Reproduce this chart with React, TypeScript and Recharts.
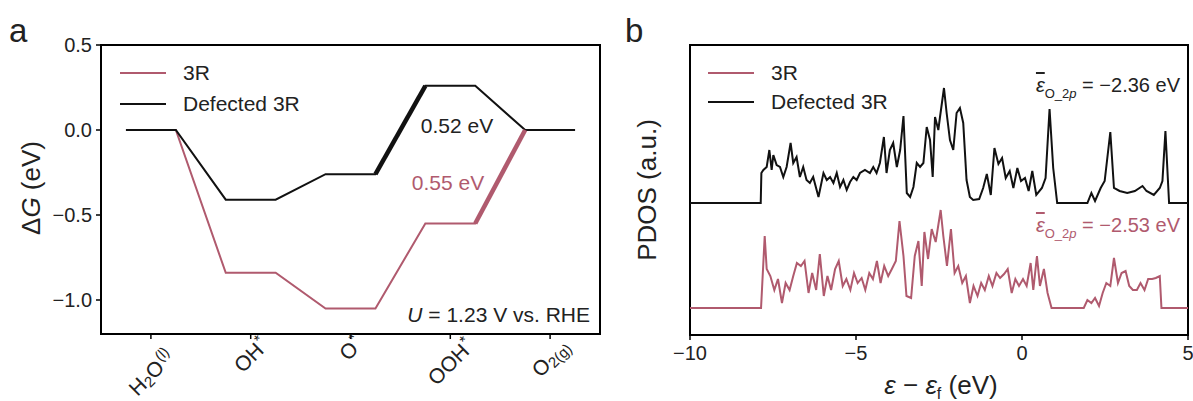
import React from 'react';
import { LineChart, Line, XAxis, YAxis, ReferenceArea, Legend } from 'recharts';

const FONT = '"Liberation Sans", Arial, Helvetica, sans-serif';
const PINK = '#b05a6e';
const INK = '#111111';
const TEXT = '#222222';

// (a) free-energy steps at U = 1.23 V
const steps = ['H2O(l)', 'OH*', 'O*', 'OOH*', 'O2(g)'];
const g3R = [0, -0.84, -1.05, -0.55, 0];
const gDefected = [0, -0.41, -0.26, 0.26, 0];
const gTicks = [-1.0, -0.5, 0.0, 0.5];
const limitStep3R = 3; // OOH* -> O2
const limitStepDefected = 2; // O* -> OOH*

// (b) O 2p PDOS, [energy (eV), density (a.u.)]
const eTicks = [-10, -5, 0, 5];
const pdos3R: [number, number][] = [
  [-10, 0], [-7.86, 0], [-7.75, 72], [-7.69, 39], [-7.58, 32], [-7.46, 18], [-7.35, 29], [-7.23, 5],
  [-7.12, 25], [-7.0, 18], [-6.89, 32], [-6.78, 45], [-6.66, 42], [-6.55, 47], [-6.43, 15], [-6.32, 35],
  [-6.2, 18], [-6.09, 54], [-5.97, 12], [-5.86, 32], [-5.75, 18], [-5.63, 39], [-5.52, 47], [-5.4, 22],
  [-5.29, 29], [-5.17, 18], [-5.06, 35], [-4.95, 25], [-4.83, 30], [-4.72, 18], [-4.6, 35], [-4.49, 29],
  [-4.37, 47], [-4.26, 25], [-4.15, 42], [-4.03, 32], [-3.92, 39], [-3.8, 47], [-3.69, 87], [-3.57, 52],
  [-3.48, 12], [-3.34, 10], [-3.23, 52], [-3.12, 67], [-3.02, 22], [-2.94, 76], [-2.83, 49], [-2.72, 79],
  [-2.6, 66], [-2.45, 98], [-2.37, 72], [-2.26, 42], [-2.14, 79], [-2.03, 35], [-1.92, 42], [-1.8, 25],
  [-1.69, 32], [-1.57, 5], [-1.46, 22], [-1.34, 12], [-1.23, 25], [-1.12, 18], [-1.0, 32], [-0.89, 22],
  [-0.77, 35], [-0.66, 30], [-0.54, 34], [-0.43, 39], [-0.31, 15], [-0.2, 29], [-0.09, 22], [0.03, 29],
  [0.14, 22], [0.26, 45], [0.34, 18], [0.45, 52], [0.54, 22], [0.66, 39], [0.77, 15], [0.89, 0],
  [1.86, 0], [1.97, 8], [2.09, 5], [2.2, 10], [2.32, 2], [2.43, 15], [2.54, 25], [2.66, 22],
  [2.77, 50], [2.89, 25], [3.0, 35], [3.12, 37], [3.23, 22], [3.34, 18], [3.46, 18], [3.57, 25],
  [3.69, 18], [3.8, 29], [3.92, 29], [4.03, 30], [4.15, 32], [4.2, 0], [5, 0],
];
const pdosDefected: [number, number][] = [
  [-10, 0], [-7.87, 0], [-7.85, 30], [-7.79, 33], [-7.69, 36], [-7.61, 53], [-7.54, 33], [-7.49, 48],
  [-7.39, 38], [-7.29, 36], [-7.19, 26], [-7.09, 36], [-6.97, 60], [-6.89, 40], [-6.79, 46], [-6.69, 26],
  [-6.59, 36], [-6.49, 23], [-6.39, 20], [-6.29, 26], [-6.13, 6], [-5.98, 30], [-5.88, 23], [-5.78, 26],
  [-5.68, 20], [-5.58, 30], [-5.48, 16], [-5.38, 23], [-5.28, 13], [-5.18, 21], [-5.08, 26], [-4.98, 23],
  [-4.88, 30], [-4.73, 33], [-4.58, 30], [-4.48, 36], [-4.38, 30], [-4.28, 40], [-4.16, 66], [-4.08, 30],
  [-3.98, 53], [-3.88, 60], [-3.77, 36], [-3.67, 53], [-3.57, 87], [-3.47, 10], [-3.37, 6], [-3.27, 16],
  [-3.17, 40], [-3.07, 36], [-2.97, 40], [-2.87, 76], [-2.77, 63], [-2.69, 26], [-2.62, 86], [-2.52, 73],
  [-2.47, 86], [-2.35, 115], [-2.27, 90], [-2.17, 63], [-2.07, 53], [-1.97, 90], [-1.87, 95], [-1.77, 80],
  [-1.67, 23], [-1.57, 6], [-1.47, 3], [-1.29, 4], [-1.17, 15], [-1.06, 29], [-0.94, 8], [-0.83, 55],
  [-0.71, 39], [-0.6, 45], [-0.49, 25], [-0.37, 32], [-0.26, 15], [-0.14, 35], [-0.03, 22], [0.09, 25],
  [0.2, 12], [0.31, 32], [0.43, 8], [0.6, 15], [0.71, 25], [0.83, 94], [0.94, 35], [1.06, 0],
  [1.97, 0], [2.09, 10], [2.2, 2], [2.37, 15], [2.49, 22], [2.66, 71], [2.77, 15], [2.94, 12],
  [3.17, 10], [3.4, 12], [3.63, 17], [3.75, 12], [3.97, 8], [4.15, 15], [4.23, 22], [4.32, 72],
  [4.43, 0], [5, 0],
];
const bandCenter3R = -2.53;
const bandCenterDefected = -2.36;
// vertical stacking of the two curves
const offset3R = 27;
const offsetDefected = 132;

const fmt = (v: number, d = 0) => (v < 0 ? '\u2212' : '') + Math.abs(v).toFixed(d);

const levels = (g: number[]) => g.flatMap((v, i) => [{ x: i - 0.25, g: v }, { x: i + 0.25, g: v }]);
const stepSeg = (g: number[], i: number) => [{ x: i + 0.25, g: g[i] }, { x: i + 0.75, g: g[i + 1] }];
const pdosRows = (p: [number, number][], off: number) => p.map(([e, h]) => ({ e, v: h + off }));

// tick label pieces: [text, kind]
type Piece = [string, 'n' | 'sub' | 'sup'];
const stepPieces: Record<string, Piece[]> = {
  'H2O(l)': [['H', 'n'], ['2', 'sub'], ['O', 'n'], ['(l)', 'sup']],
  'OH*': [['OH', 'n'], ['*', 'sup']],
  'O*': [['O', 'n'], ['*', 'sup']],
  'OOH*': [['OOH', 'n'], ['*', 'sup']],
  'O2(g)': [['O', 'n'], ['2(g)', 'sub']],
};

const StepTick = (props: any) => {
  const { x, y, payload } = props;
  const name = steps[payload.value];
  const pieces = stepPieces[name] || [];
  const w = pieces.reduce((s, [t, k]) => s + t.length * (k === 'n' ? 15 : 7), 0);
  const drop = name === 'H2O(l)' ? 8 : 0;
  let shift = 0;
  const spans = pieces.map(([t, k], i) => {
    const target = k === 'sub' ? 5 : k === 'sup' ? -6 : 0;
    const dy = target - shift;
    shift = target;
    return (
      <tspan key={i} dy={dy} dx={k === 'sup' ? 1 : 0} fontSize={k === 'n' ? 21 : 15}>
        {t}
      </tspan>
    );
  });
  return (
    <g transform={`translate(${x},${y - 3 + drop + w * 0.45}) rotate(-45)`}>
      <text textAnchor="middle" dominantBaseline="central" fill={TEXT} fontFamily={FONT}>
        {spans}
      </text>
    </g>
  );
};

const LegendBox = ({ payload, rowH }: any) => (
  <div style={{ fontFamily: FONT }}>
    {(payload || [])
      .filter((p: any) => p.type !== 'none')
      .map((p: any) => (
        <div key={p.value} style={{ display: 'flex', alignItems: 'center', height: rowH }}>
          <span style={{ display: 'inline-block', width: 46, height: 2, background: p.color, marginRight: 17 }} />
          <span style={{ fontSize: 21, color: TEXT, lineHeight: 1 }}>{p.value}</span>
        </div>
      ))}
  </div>
);

const BandLabel = ({ x, y, value, color }: any) => (
  <text x={x} y={y} textAnchor="end" fontSize={20} fill={color} fontFamily={FONT}>
    <tspan fontStyle="italic" style={{ textDecoration: 'overline' }}>ε</tspan>
    <tspan fontSize={13} dy={6}>O_2</tspan>
    <tspan fontSize={13} fontStyle="italic">p</tspan>
    <tspan dy={-6}> = {fmt(value, 2)} eV</tspan>
  </text>
);

const axisStyle = { stroke: '#000', strokeWidth: 2 };
const tickStyle = { fontSize: 20, fill: TEXT, fontFamily: FONT };

export default function App() {
  const d3R = levels(g3R);
  const dDef = levels(gDefected);
  const thick3R = stepSeg(g3R, limitStep3R);
  const thickDef = stepSeg(gDefected, limitStepDefected);
  const gapDef = gDefected[limitStepDefected + 1] - gDefected[limitStepDefected];
  const gap3R = g3R[limitStep3R + 1] - g3R[limitStep3R];

  return (
    <div style={{ position: 'absolute', left: 0, top: 0, width: 1193, height: 401, background: '#fff', fontFamily: FONT }}>
      <div style={{ position: 'absolute', left: 0, top: 0 }}>
        <LineChart width={610} height={401} margin={{ top: 45, right: 10, left: 0, bottom: 0 }}>
          <XAxis
            type="number"
            dataKey="x"
            domain={[-0.5, 4.5]}
            ticks={[0, 1, 2, 3, 4]}
            interval={0}
            height={67}
            axisLine={axisStyle}
            tickLine={{ stroke: '#000', strokeWidth: 1.5 }}
            tickSize={5}
            tick={<StepTick />}
          />
          <YAxis
            type="number"
            domain={[-1.2, 0.5]}
            ticks={gTicks}
            width={101}
            axisLine={axisStyle}
            tickLine={{ stroke: '#000', strokeWidth: 1.5 }}
            tickSize={5}
            tickMargin={4}
            tick={tickStyle}
            tickFormatter={(v: number) => fmt(v, 1)}
          />
          <ReferenceArea x1={-0.5} x2={4.5} y1={-1.2} y2={0.5} fill="none" stroke="#000" strokeWidth={2} />
          <Line data={d3R} dataKey="g" name="3R" stroke={PINK} strokeWidth={2} dot={false} isAnimationActive={false} />
          <Line data={dDef} dataKey="g" name="Defected 3R" stroke={INK} strokeWidth={2} dot={false} isAnimationActive={false} />
          <Line data={thick3R} dataKey="g" name="3R PDS" legendType="none" stroke={PINK} strokeWidth={4.5} dot={false} isAnimationActive={false} />
          <Line data={thickDef} dataKey="g" name="Defected PDS" legendType="none" stroke={INK} strokeWidth={4.5} dot={false} isAnimationActive={false} />
          <Legend
            layout="vertical"
            align="center"
            verticalAlign="middle"
            wrapperStyle={{ left: 120, top: 57, width: 'auto' }}
            content={(p: any) => <LegendBox {...p} rowH={31} />}
          />
          <text x={9} y={42} fontSize={33} fill={TEXT} fontFamily={FONT}>a</text>
          <text transform="translate(40,188) rotate(-90)" textAnchor="middle" fontSize={26} fill={TEXT} fontFamily={FONT}>
            Δ<tspan fontStyle="italic">G</tspan> (eV)
          </text>
          <text x={457} y={133} textAnchor="middle" fontSize={21} fill={TEXT} fontFamily={FONT}>
            {gapDef.toFixed(2)} eV
          </text>
          <text x={448} y={190} textAnchor="middle" fontSize={21} fill={PINK} fontFamily={FONT}>
            {gap3R.toFixed(2)} eV
          </text>
          <text x={590} y={322} textAnchor="end" fontSize={21} fill={TEXT} fontFamily={FONT}>
            <tspan fontStyle="italic">U</tspan> = 1.23 V vs. RHE
          </text>
        </LineChart>
      </div>

      <div style={{ position: 'absolute', left: 600, top: 0 }}>
        <LineChart width={593} height={401} margin={{ top: 45, right: 5, left: 90, bottom: 0 }}>
          <XAxis
            type="number"
            dataKey="e"
            domain={[-10, 5]}
            ticks={eTicks}
            interval={0}
            height={66}
            axisLine={axisStyle}
            tickLine={{ stroke: '#000', strokeWidth: 1.5 }}
            tickSize={5}
            tickMargin={6}
            tick={tickStyle}
            tickFormatter={(v: number) => fmt(v)}
          />
          <YAxis type="number" domain={[0, 290]} hide />
          <ReferenceArea x1={-10} x2={5} y1={0} y2={290} fill="none" stroke="#000" strokeWidth={2} />
          <Line data={pdosRows(pdos3R, offset3R)} dataKey="v" name="3R" stroke={PINK} strokeWidth={2} dot={false} isAnimationActive={false} />
          <Line data={pdosRows(pdosDefected, offsetDefected)} dataKey="v" name="Defected 3R" stroke={INK} strokeWidth={2} dot={false} isAnimationActive={false} />
          <Legend
            layout="vertical"
            align="center"
            verticalAlign="middle"
            wrapperStyle={{ left: 108, top: 58, width: 'auto' }}
            content={(p: any) => <LegendBox {...p} rowH={29} />}
          />
          <text x={25} y={42} fontSize={33} fill={TEXT} fontFamily={FONT}>b</text>
          <text transform="translate(56,190) rotate(-90)" textAnchor="middle" fontSize={26} fill={TEXT} fontFamily={FONT}>
            PDOS (a.u.)
          </text>
          <text x={341} y={394} textAnchor="middle" fontSize={26} fill={TEXT} fontFamily={FONT}>
            <tspan fontStyle="italic">ε</tspan> − <tspan fontStyle="italic">ε</tspan>
            <tspan fontSize={16} dy={5}>f</tspan>
            <tspan dy={-5}> (eV)</tspan>
          </text>
          <BandLabel x={580} y={92} value={bandCenterDefected} color={TEXT} />
          <BandLabel x={580} y={232} value={bandCenter3R} color={PINK} />
        </LineChart>
      </div>
    </div>
  );
}
